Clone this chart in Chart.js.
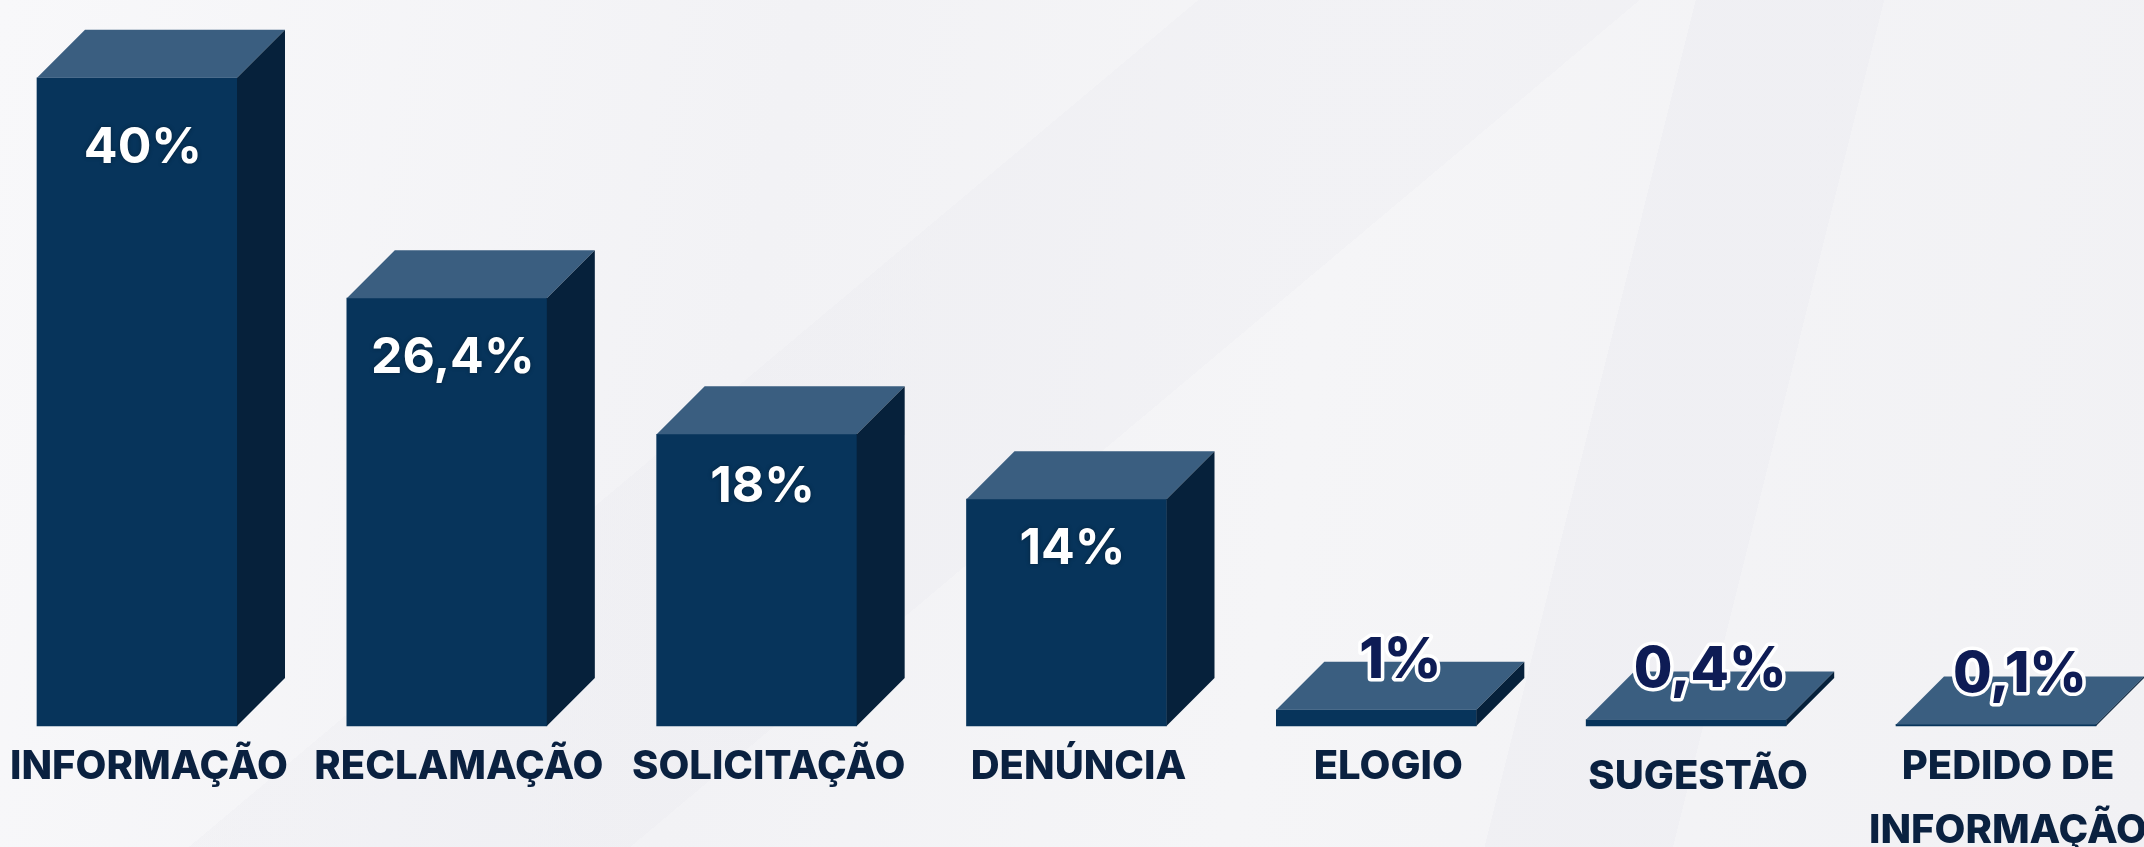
<!DOCTYPE html>
<html>
<head>
<meta charset="utf-8">
<script src="https://cdn.jsdelivr.net/npm/chart.js@4/dist/chart.umd.min.js"></script>
<style>
html, body { margin: 0; padding: 0; }
body {
  width: 2144px; height: 847px; overflow: hidden;
  background:
    linear-gradient(104deg, rgba(255,255,255,0) 72%, rgba(236,236,241,0.5) 72%, rgba(236,236,241,0.5) 80%, rgba(255,255,255,0) 80%),
    linear-gradient(140deg, rgba(255,255,255,0) 38%, rgba(232,232,238,0.25) 38%, rgba(232,232,238,0.25) 52%, rgba(255,255,255,0) 52%),
    linear-gradient(100deg, #f8f8fa 0%, #f2f2f5 35%, #f5f5f7 60%, #f1f1f4 100%);
}
#wrap { position: relative; width: 2144px; height: 847px; }
</style>
</head>
<body>
<div id="wrap"><canvas id="myChart"></canvas></div>
<script>
var categories = ["INFORMAÇÃO", "RECLAMAÇÃO", "SOLICITAÇÃO", "DENÚNCIA", "ELOGIO", "SUGESTÃO", ["PEDIDO DE", "INFORMAÇÃO"]];
var percentValues = [40, 26.4, 18, 14, 1, 0.4, 0.1];
var percentLabels = ["40%", "26,4%", "18%", "14%", "1%", "0,4%", "0,1%"];

var depth = 48;

// draws the top and side faces plus the value labels
var cube3d = {
  id: "cube3d",
  afterDatasetsDraw: function(chart) {
    var ctx = chart.ctx;
    var meta = chart.getDatasetMeta(0);
    meta.data.forEach(function(bar, i) {
      var p = bar.getProps(["x", "y", "base", "width"], true);
      var l = p.x - p.width / 2, r = p.x + p.width / 2, t = p.y, b = p.base;
      ctx.save();
      ctx.fillStyle = "#3a5e80";
      ctx.beginPath();
      ctx.moveTo(l, t); ctx.lineTo(l + depth, t - depth);
      ctx.lineTo(r + depth, t - depth); ctx.lineTo(r, t);
      ctx.closePath(); ctx.fill();
      ctx.fillStyle = "#06213b";
      ctx.beginPath();
      ctx.moveTo(r, t); ctx.lineTo(r + depth, t - depth);
      ctx.lineTo(r + depth, b - depth); ctx.lineTo(r, b);
      ctx.closePath(); ctx.fill();

      ctx.textAlign = "center";
      ctx.textBaseline = "middle";
      if (percentValues[i] >= 5) {
        var h = b - t;
        ctx.font = "700 50px Inter";
        ctx.fillStyle = "#ffffff";
        ctx.shadowColor = "rgba(0,0,0,0.35)";
        ctx.shadowBlur = 4;
        ctx.fillText(percentLabels[i], p.x + 6, t + 39 + 0.0475 * h);
      } else {
        ctx.font = "800 56px Inter";
        ctx.lineJoin = "round";
        ctx.lineWidth = 7;
        ctx.strokeStyle = "#ffffff";
        ctx.strokeText(percentLabels[i], p.x + depth / 2, t - depth - 1);
        ctx.fillStyle = "#0e1c55";
        ctx.fillText(percentLabels[i], p.x + depth / 2, t - depth - 1);
      }
      ctx.restore();
    });
  }
};

new Chart("myChart", {
  type: "bar",
  data: {
    labels: categories,
    datasets: [{
      data: percentValues,
      backgroundColor: "#07345b",
      borderWidth: 0,
      barThickness: 200,
      clip: false
    }]
  },
  options: {
    responsive: true,
    maintainAspectRatio: false,
    animation: false,
    layout: { padding: { left: 137, right: 148, top: 0, bottom: 0 } },
    plugins: { legend: { display: false }, tooltip: { enabled: false } },
    scales: {
      x: {
        offset: false,
        grid: { display: false, drawTicks: false },
        border: { display: false },
        afterFit: function(scale) {
          scale.height = 121;
          scale.paddingLeft = 0;
          scale.paddingRight = 0;
        },
        ticks: {
          autoSkip: false,
          maxRotation: 0,
          padding: 9,
          labelOffset: 12,
          color: "#0a2140",
          font: function(c) {
            return { family: "Inter", weight: "800", size: 40, lineHeight: c.index === 5 ? 2.1 : 1.6 };
          }
        }
      },
      y: { display: false, min: 0, max: 44.8 }
    }
  },
  plugins: [cube3d]
});
</script>
</body>
</html>
